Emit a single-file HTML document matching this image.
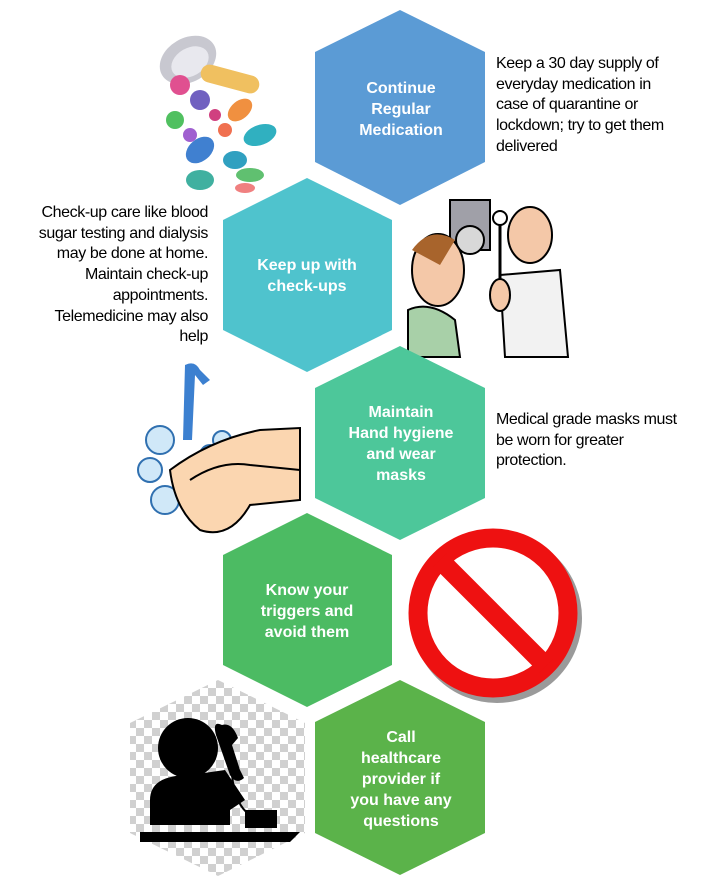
<!DOCTYPE html>
<html><head><meta charset="utf-8"><style>
html,body{margin:0;padding:0;background:#fff;}
body{width:714px;height:885px;position:relative;overflow:hidden;font-family:"Liberation Sans",sans-serif;}
.t{position:absolute;font-size:16px;line-height:20.7px;color:#000;letter-spacing:-0.4px;white-space:nowrap;}
</style></head><body>
<svg width="714" height="885" style="position:absolute;left:0;top:0">
<defs>
<pattern id="chk" width="16" height="16" patternUnits="userSpaceOnUse">
<rect width="16" height="16" fill="#fff"/><rect width="8" height="8" fill="#d0d0d0"/><rect x="8" y="8" width="8" height="8" fill="#d0d0d0"/>
</pattern>
</defs>
<g>
<ellipse cx="188" cy="60" rx="30" ry="22" fill="#c8c8d0" transform="rotate(-30 188 60)"/>
<ellipse cx="190" cy="62" rx="20" ry="14" fill="#e8e8ee" transform="rotate(-30 190 62)"/>
<rect x="200" y="70" width="60" height="18" rx="9" fill="#f0c060" transform="rotate(15 230 79)"/>
<circle cx="180" cy="85" r="10" fill="#e05090"/><circle cx="200" cy="100" r="10" fill="#7060c0"/>
<ellipse cx="240" cy="110" rx="14" ry="9" fill="#f09040" transform="rotate(-40 240 110)"/>
<ellipse cx="260" cy="135" rx="17" ry="10" fill="#30b0c0" transform="rotate(-20 260 135)"/>
<circle cx="175" cy="120" r="9" fill="#50c060"/><circle cx="225" cy="130" r="7" fill="#f07050"/>
<ellipse cx="200" cy="150" rx="16" ry="11" fill="#4080d0" transform="rotate(-40 200 150)"/>
<ellipse cx="235" cy="160" rx="12" ry="9" fill="#30a0c0"/>
<ellipse cx="200" cy="180" rx="14" ry="10" fill="#40b0a0"/>
<ellipse cx="250" cy="175" rx="14" ry="7" fill="#60c070"/>
<ellipse cx="245" cy="188" rx="10" ry="5" fill="#f08080"/>
<circle cx="215" cy="115" r="6" fill="#d04080"/><circle cx="190" cy="135" r="7" fill="#a060d0"/>
</g>
<g>
<rect x="450" y="200" width="40" height="50" fill="#a0a0a8" stroke="#000" stroke-width="2"/>
<circle cx="470" cy="240" r="14" fill="#d8d8d8" stroke="#000" stroke-width="2"/>
<ellipse cx="438" cy="270" rx="26" ry="36" fill="#f4c8a8" stroke="#000" stroke-width="2"/>
<path d="M412 250 Q430 225 455 240 L440 265 Z" fill="#a8642c"/>
<path d="M408 310 Q430 300 455 320 L460 357 L408 357Z" fill="#a8d0a8" stroke="#000" stroke-width="2"/>
<ellipse cx="530" cy="235" rx="22" ry="28" fill="#f4c8a8" stroke="#000" stroke-width="2"/>
<path d="M500 275 L560 270 L568 357 L505 357Z" fill="#f2f2f2" stroke="#000" stroke-width="2"/>
<line x1="500" y1="220" x2="500" y2="290" stroke="#000" stroke-width="3"/>
<circle cx="500" cy="218" r="7" fill="#fff" stroke="#000" stroke-width="2"/>
<ellipse cx="500" cy="295" rx="10" ry="16" fill="#f4c8a8" stroke="#000" stroke-width="2"/>
</g>
<g>
<path d="M185 365 Q195 360 200 370 L210 380 L203 385 L195 375 L192 440 L183 440 Z" fill="#3c80d0"/>
<circle cx="160" cy="440" r="14" fill="#d0e8f8" stroke="#3070b0" stroke-width="2"/>
<circle cx="150" cy="470" r="12" fill="#d0e8f8" stroke="#3070b0" stroke-width="2"/>
<circle cx="165" cy="500" r="14" fill="#d0e8f8" stroke="#3070b0" stroke-width="2"/>
<circle cx="210" cy="455" r="10" fill="#d0e8f8" stroke="#3070b0" stroke-width="2"/>
<circle cx="222" cy="440" r="9" fill="#d0e8f8" stroke="#3070b0" stroke-width="2"/>
<path d="M170 470 Q210 440 260 430 L300 428 L300 500 L250 505 Q230 540 200 530 Q175 510 170 470Z" fill="#fbd6b0" stroke="#000" stroke-width="2"/>
<path d="M190 480 Q220 460 250 465 L300 470" fill="none" stroke="#000" stroke-width="2"/>
</g>
<circle cx="494" cy="615" r="75" fill="#fff" stroke="#9a9a9a" stroke-width="20" transform="translate(3,3)"/>
<circle cx="493" cy="613" r="75" fill="#fff" stroke="#ee1111" stroke-width="19"/>
<line x1="440" y1="560" x2="546" y2="666" stroke="#ee1111" stroke-width="19"/>
<polygon points="218,680 305,723 305,833 218,876 130,833 130,723" fill="url(#chk)"/>
<g fill="#000">
<circle cx="188" cy="748" r="30"/>
<path d="M150 800 Q150 775 190 775 L225 770 L245 800 L230 810 L230 825 L150 825Z"/>
<rect x="245" y="810" width="32" height="18"/>
<path d="M140 832 L300 832 L290 842 L140 842Z"/>
<path d="M222 725 Q212 720 216 735 L230 775 Q236 785 244 778 L240 770 L232 745 L238 738 Q232 722 222 725Z"/>
</g>
<path d="M232 775 Q235 805 250 815" fill="none" stroke="#000" stroke-width="2"/>
<polygon points="400,10 485,52 485,162 400,205 315,162 315,52" fill="#5b9bd5"/>
<polygon points="307,178 392,220 392,330 307,372 223,330 223,220" fill="#4fc3cd"/>
<polygon points="400,346 485,388 485,498 400,540 315,498 315,388" fill="#4dc79a"/>
<polygon points="307,513 392,555 392,665 307,707 223,665 223,555" fill="#4cbb63"/>
<polygon points="400,680 485,722 485,833 400,875 315,833 315,722" fill="#5bb34a"/>
<g fill="#fff" font-family="Liberation Sans, sans-serif" font-weight="bold" font-size="16" text-anchor="middle">
<text x="401" y="93">Continue</text><text x="401" y="114">Regular</text><text x="401" y="135">Medication</text>
<text x="307" y="270">Keep up with</text><text x="307" y="291">check-ups</text>
<text x="401" y="417">Maintain</text><text x="401" y="438">Hand hygiene</text><text x="401" y="459">and wear</text><text x="401" y="480">masks</text>
<text x="307" y="595">Know your</text><text x="307" y="616">triggers and</text><text x="307" y="637">avoid them</text>
<text x="401" y="742">Call</text><text x="401" y="763">healthcare</text><text x="401" y="784">provider if</text><text x="401" y="805">you have any</text><text x="401" y="826">questions</text>
</g>
</svg>
<div class="t" style="left:496px;top:54px;">Keep a 30 day supply of<br>everyday medication in<br>case of quarantine or<br>lockdown; try to get them<br>delivered</div>
<div class="t" style="left:0px;top:203px;width:208px;text-align:right;">Check-up care like blood<br>sugar testing and dialysis<br>may be done at home.<br>Maintain check-up<br>appointments.<br>Telemedicine may also<br>help</div>
<div class="t" style="left:496px;top:410px;">Medical grade masks must<br>be worn for greater<br>protection.</div>
</body></html>
